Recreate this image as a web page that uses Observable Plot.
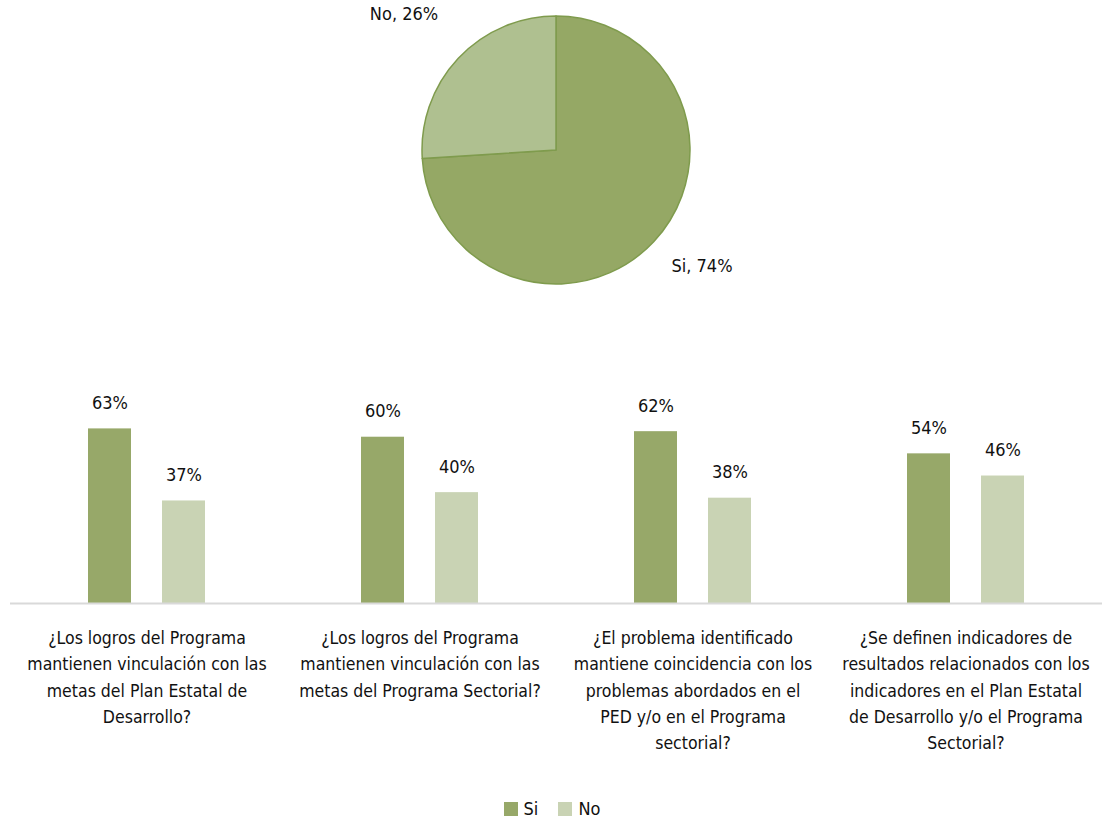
<!DOCTYPE html>
<html>
<head>
<meta charset="utf-8">
<script src="https://cdn.jsdelivr.net/npm/d3@7"></script>
<script src="https://cdn.jsdelivr.net/npm/@observablehq/plot@0.6"></script>
<style>
  html, body { margin: 0; padding: 0; background: #fff; }
  body { width: 1104px; height: 818px; overflow: hidden; font-family: "DejaVu Sans Condensed", sans-serif; color: #111; }
  #legend { display: flex; justify-content: center; align-items: center; gap: 20px; height: 28px; font-size: 18px; margin-top: 4px; }
  #legend span.sw { display: inline-block; width: 14px; height: 14px; margin-right: 6px; vertical-align: -1px; }
</style>
</head>
<body>
<div id="pie"></div>
<div id="bars"></div>
<div id="legend"></div>
<script>
// ---- data ----
const pieLabels = ["Si", "No"];
const pieValues = [74, 26];

const categories = [
  "¿Los logros del Programa\nmantienen vinculación con las\nmetas del Plan Estatal de\nDesarrollo?",
  "¿Los logros del Programa\nmantienen vinculación con las\nmetas del Programa Sectorial?",
  "¿El problema identificado\nmantiene coincidencia con los\nproblemas abordados en el\nPED y/o en el Programa\nsectorial?",
  "¿Se definen indicadores de\nresultados relacionados con los\nindicadores en el Plan Estatal\nde Desarrollo y/o el Programa\nSectorial?"
];
const series = ["Si", "No"];
const siValues = [63, 60, 62, 54];
const noValues = [37, 40, 38, 46];

// ---- styles ----
const FONT = '"DejaVu Sans Condensed", sans-serif';
const barColors = ["#97a869", "#c9d3b4"];
const pieColors = ["#95a865", "#afc090"];
const pieStroke = "#7f9b4d";
const labelOffsets = {Si: [146, 116], No: [-152, -136]};

// ---- pie (Plot with a custom render mark) ----
const pieRows = pieLabels.map((l, i) => ({label: l, value: pieValues[i]}));
const pieMark = (index, scales, values, dims) => {
  const cx = dims.width / 2 + 4, cy = 150, r = 134;
  const arcs = d3.pie().sort(null).value(d => d.value)(pieRows);
  const arc = d3.arc().innerRadius(0).outerRadius(r);
  const g = d3.create("svg:g").attr("transform", `translate(${cx},${cy})`);
  g.selectAll("path").data(arcs).join("path")
    .attr("d", arc)
    .attr("fill", (d, i) => pieColors[i])
    .attr("stroke", pieStroke)
    .attr("stroke-width", 1.5)
    .attr("stroke-linejoin", "round");
  g.selectAll("text").data(arcs).join("text")
    .attr("x", d => labelOffsets[d.data.label][0])
    .attr("y", d => labelOffsets[d.data.label][1])
    .attr("dy", "0.35em")
    .attr("text-anchor", "middle")
    .attr("font-family", FONT)
    .attr("font-size", 18)
    .attr("fill", "#111")
    .text(d => `${d.data.label}, ${d.data.value}%`);
  return g.node();
};
document.getElementById("pie").append(Plot.plot({
  width: 1104, height: 300, margin: 0,
  style: {fontFamily: FONT, background: "#fff"},
  marks: [pieMark]
}));

// ---- bars ----
const rows = [];
categories.forEach((c, i) => {
  rows.push({cat: c, s: "Si", v: siValues[i]});
  rows.push({cat: c, s: "No", v: noValues[i]});
});

document.getElementById("bars").append(Plot.plot({
  width: 1104, height: 490,
  marginLeft: 10, marginRight: 2, marginTop: 109, marginBottom: 187,
  style: {fontFamily: FONT, background: "#fff", color: "#111"},
  fx: {domain: categories, padding: 0, axis: null, label: null},
  x: {domain: series, paddingInner: 0.416, paddingOuter: 1.04, axis: null},
  y: {domain: [0, 70], axis: null},
  color: {domain: series, range: barColors},
  marks: [
    Plot.barY(rows, {fx: "cat", x: "s", y: "v", fill: "s"}),
    Plot.ruleY([0], {stroke: "#d9d9d9", strokeWidth: 2}),
    Plot.text(rows, {fx: "cat", x: "s", y: "v", text: d => `${d.v}%`, lineAnchor: "bottom", dy: -20, fontSize: 18, fill: "#111"}),
    Plot.text(categories, {fx: d => d, text: d => d, frameAnchor: "bottom", lineAnchor: "top", dy: 22, fontSize: 17.5, lineHeight: 1.5, fill: "#111"})
  ]
}));

// ---- legend ----
const legend = document.getElementById("legend");
series.forEach((s, i) => {
  const item = document.createElement("div");
  item.innerHTML = `<span class="sw" style="background:${barColors[i]}"></span>${s}`;
  legend.append(item);
});
</script>
</body>
</html>
